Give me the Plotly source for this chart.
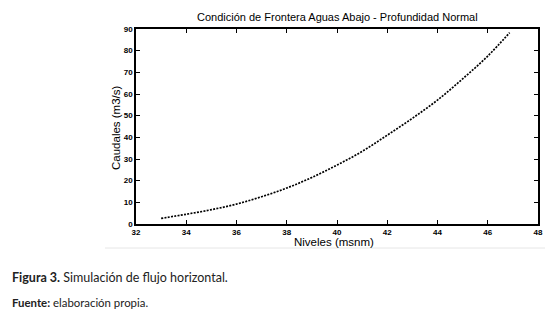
import plotly.graph_objects as go

niveles = [33.0, 34.0, 35.0, 36.0, 37.0, 38.0, 39.0, 40.0, 41.0, 42.0, 43.0, 44.0, 45.0, 46.0, 46.87]
caudales = [2.6, 4.5, 6.6, 9.2, 12.6, 16.6, 21.5, 27.2, 33.5, 41.0, 48.8, 57.2, 67.0, 77.5, 88.3]

x_ticks = [32, 34, 36, 38, 40, 42, 44, 46, 48]
y_ticks = [0, 10, 20, 30, 40, 50, 60, 70, 80, 90]

title_text = "Condición de Frontera Aguas Abajo - Profundidad Normal"
x_title = "Niveles (msnm)"
y_title = "Caudales (m3/s)"
caption = "<b>Figura 3.</b> Simulación de flujo horizontal."
source = "<b>Fuente:</b> elaboración propia."

# page body has an 8px margin: lay out in page pixels, then shift
OFF = 8
W, H = 560 - OFF, 314 - OFF
l, r, t, b = 136 - OFF, 560 - 538, 29 - OFF, 314 - 224
pw, ph = W - l - r, H - t - b


def px(x):
    return (x - OFF - l) / pw


def py(y):
    return 1 - (y - OFF - t) / ph


fig = go.Figure()
fig.add_trace(go.Scatter(
    x=niveles, y=caudales, mode="lines",
    line=dict(color="black", width=1.7, dash="2px,1.3px", shape="spline"),
    showlegend=False,
))

axis_common = dict(
    showgrid=False, zeroline=False, showline=True, linecolor="black", linewidth=1.5,
    mirror="ticks", ticks="inside", ticklen=4, tickcolor="black", tickwidth=1,
    tickfont=dict(family="Liberation Sans, Arial", size=8, color="black", weight="bold"),
)

ann = [
    dict(text=title_text, x=px(337), y=py(17),
         font=dict(family="Liberation Sans, Arial", size=11, color="black")),
    dict(text=x_title, x=px(334), y=py(242),
         font=dict(family="Liberation Sans, Arial", size=11.5, color="black")),
    dict(text=y_title, x=px(116), y=py(128), textangle=-90,
         font=dict(family="Liberation Sans, Arial", size=11.5, color="black")),
    dict(text=caption, x=px(10), y=py(277), xanchor="left",
         font=dict(family="Lato, Open Sans", size=12.5, color="#222")),
    dict(text=source, x=px(10), y=py(302), xanchor="left",
         font=dict(family="Lato, Open Sans", size=11.4, color="#222")),
]
for a in ann:
    a.update(xref="paper", yref="paper", showarrow=False, yanchor="middle")
    a.setdefault("xanchor", "center")

fig.update_layout(
    width=W, height=H,
    margin=dict(l=l, r=r, t=t, b=b),
    paper_bgcolor="white", plot_bgcolor="white",
    xaxis=dict(range=[32, 48], tickvals=x_ticks, ticktext=[str(v) for v in x_ticks], **axis_common),
    yaxis=dict(range=[0, 90], tickvals=y_ticks, ticktext=[str(v) for v in y_ticks], **axis_common),
    annotations=ann,
)

fig.add_shape(type="line", xref="paper", yref="paper",
              x0=px(105), x1=px(545), y0=py(248), y1=py(248),
              line=dict(color="#e6e6e6", width=1))

fig.write_html("out.html")
